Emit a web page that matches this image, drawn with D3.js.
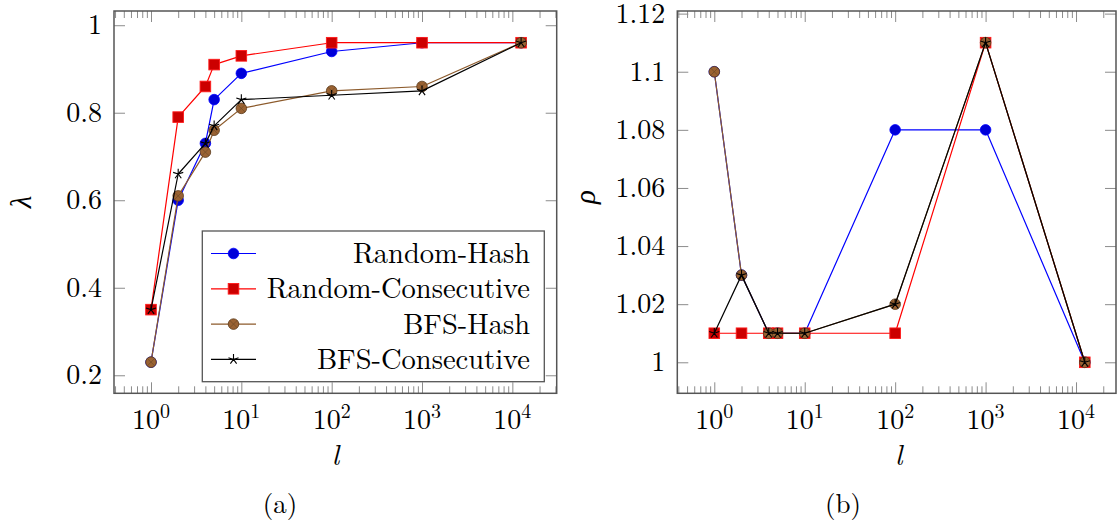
<!DOCTYPE html>
<html><head><meta charset="utf-8">
<script src="https://cdn.jsdelivr.net/npm/d3@7"></script>
<style>
body{margin:0;background:#fff}
svg{display:block}
</style>
</head><body>
<svg id="c" width="1117" height="524"></svg>
<script>
// ---------- data ----------
const lValues = [1, 2, 4, 5, 10, 100, 1000, 12500];
const seriesNames = ["Random-Hash", "Random-Consecutive", "BFS-Hash", "BFS-Consecutive"];
const lambdaRandomHash   = [0.23, 0.60, 0.73, 0.83, 0.89, 0.94, 0.96, 0.96];
const lambdaRandomConsec = [0.35, 0.79, 0.86, 0.91, 0.93, 0.96, 0.96, 0.96];
const lambdaBfsHash      = [0.23, 0.61, 0.71, 0.76, 0.81, 0.85, 0.86, 0.96];
const lambdaBfsConsec    = [0.35, 0.66, 0.73, 0.77, 0.83, 0.84, 0.85, 0.96];
const rhoRandomHash      = [1.10, 1.03, 1.01, 1.01, 1.01, 1.08, 1.08, 1.00];
const rhoRandomConsec    = [1.01, 1.01, 1.01, 1.01, 1.01, 1.01, 1.11, 1.00];
const rhoBfsHash         = [1.10, 1.03, 1.01, 1.01, 1.01, 1.02, 1.11, 1.00];
const rhoBfsConsec       = [1.01, 1.03, 1.01, 1.01, 1.01, 1.02, 1.11, 1.00];
const xTickExps = [0, 1, 2, 3, 4];
const lambdaTicks = [0.2, 0.4, 0.6, 0.8, 1];
const rhoTicks = [1, 1.02, 1.04, 1.06, 1.08, 1.1, 1.12];

// ---------- styles ----------
const FONT = "'Latin Modern Roman', 'Liberation Serif', monospace";
const GREEK = "'Liberation Serif', 'DejaVu Serif', monospace";
// prime font lookup
(function(){ const c = document.createElement("canvas").getContext("2d");
  c.font = "28px " + FONT; c.measureText("Random 0.8"); c.font = "italic 28px " + GREEK; c.measureText("λρ"); })();

const styles = [
  {line: "#0000ff", mark: "circle", fill: "#0000d9", stroke: "#0000ff"},
  {line: "#ff0000", mark: "square", fill: "#cc0000", stroke: "#ff1a1a"},
  {line: "#8c5a2b", mark: "otimes", fill: "#9a6232", stroke: "#5a3a1a"},
  {line: "#000000", mark: "star",   fill: "none",    stroke: "#000000"}
];
const R = 5.3;

const svg = d3.select("#c");

function txt(g, fam) {
  return g.append("text").attr("font-family", fam || FONT).style("font-family", fam || FONT).attr("fill", "#000");
}

function drawMark(g, type, st, cx, cy) {
  if (type === "circle") {
    g.append("circle").attr("cx", cx).attr("cy", cy).attr("r", R)
      .attr("fill", st.fill).attr("stroke", st.stroke).attr("stroke-width", 0.8);
  } else if (type === "square") {
    g.append("rect").attr("x", cx - R).attr("y", cy - R).attr("width", 2 * R).attr("height", 2 * R)
      .attr("fill", st.fill).attr("stroke", st.stroke).attr("stroke-width", 0.9);
  } else if (type === "otimes") {
    g.append("circle").attr("cx", cx).attr("cy", cy).attr("r", R)
      .attr("fill", st.fill).attr("stroke", st.stroke).attr("stroke-width", 0.8);
    const d = R * 0.707;
    g.append("path").attr("d", `M${cx - d},${cy - d}L${cx + d},${cy + d}M${cx - d},${cy + d}L${cx + d},${cy - d}`)
      .attr("stroke", "#6e4a26").attr("stroke-width", 0.7).attr("fill", "none");
  } else if (type === "star") {
    let p = "";
    for (let k = 0; k < 5; k++) {
      const a = (-90 + 72 * k) * Math.PI / 180;
      p += `M${cx},${cy}L${cx + R * Math.cos(a)},${cy + R * Math.sin(a)}`;
    }
    g.append("path").attr("d", p).attr("stroke", "#000").attr("stroke-width", 1.1).attr("fill", "none");
  }
}

function panel(cfg) {
  const g = svg.append("g");
  const x = d3.scaleLog().domain([Math.pow(10, cfg.xMinExp), Math.pow(10, cfg.xMaxExp)]).range([cfg.x0, cfg.x1]);
  const y = d3.scaleLinear().domain(cfg.yDomain).range([cfg.y0, cfg.y1]);
  const majors = xTickExps.map(e => Math.pow(10, e));
  const minors = [];
  for (let e = -1; e <= 5; e++) for (let k = 2; k <= 9; k++) {
    const v = k * Math.pow(10, e);
    if (v > x.domain()[0] && v < x.domain()[1]) minors.push(v);
  }

  const axes = g.append("g").attr("class", "axes");
  function styleAxis(sel) {
    sel.select(".domain").remove();
    sel.selectAll(".tick line").attr("stroke", "#8c8c8c").attr("stroke-width", 1);
    sel.selectAll(".tick text").remove();
  }
  axes.append("g").attr("transform", `translate(0,${cfg.y0})`)
    .call(d3.axisBottom(x).tickValues(majors).tickSize(-11).tickFormat("")).call(styleAxis);
  axes.append("g").attr("transform", `translate(0,${cfg.y0})`)
    .call(d3.axisBottom(x).tickValues(minors).tickSize(-7).tickFormat("")).call(styleAxis);
  axes.append("g").attr("transform", `translate(0,${cfg.y1})`)
    .call(d3.axisTop(x).tickValues(majors).tickSize(-11).tickFormat("")).call(styleAxis);
  axes.append("g").attr("transform", `translate(0,${cfg.y1})`)
    .call(d3.axisTop(x).tickValues(minors).tickSize(-7).tickFormat("")).call(styleAxis);
  axes.append("g").attr("transform", `translate(${cfg.x0},0)`)
    .call(d3.axisLeft(y).tickValues(cfg.yTicks).tickSize(-11).tickFormat("")).call(styleAxis);
  axes.append("g").attr("transform", `translate(${cfg.x1},0)`)
    .call(d3.axisRight(y).tickValues(cfg.yTicks).tickSize(-11).tickFormat("")).call(styleAxis);

  // box
  g.append("rect").attr("x", cfg.x0).attr("y", cfg.y1).attr("width", cfg.x1 - cfg.x0).attr("height", cfg.y0 - cfg.y1)
    .attr("fill", "none").attr("stroke", "#555").attr("stroke-width", 1.5);

  // tick labels
  cfg.yTicks.forEach(v => {
    txt(g).attr("x", cfg.x0 - 12).attr("y", y(v) + 9).attr("text-anchor", "end")
      .attr("font-size", 28).text(String(v));
  });
  xTickExps.forEach(e => {
    const t = txt(g).attr("x", x(Math.pow(10, e))).attr("y", 428.5).attr("text-anchor", "middle")
      .attr("font-size", 28);
    t.append("tspan").text("10");
    t.append("tspan").attr("font-size", 20).attr("dy", -11).text(String(e));
  });

  // axis titles
  txt(g).attr("x", (cfg.x0 + cfg.x1w) / 2).attr("y", 465).attr("text-anchor", "middle")
    .attr("font-size", 29).attr("font-style", "italic").text("l");
  txt(g, GREEK).attr("transform", `translate(${cfg.ylabX},${cfg.ylabY}) rotate(-90)`)
    .attr("text-anchor", "middle").attr("font-size", 29).attr("font-style", "italic").text(cfg.ylab);
  txt(g).attr("x", cfg.capX).attr("y", 513).attr("text-anchor", "middle")
    .attr("font-size", 27).text(cfg.caption);

  // series
  const line = d3.line().x(d => x(d[0])).y(d => y(d[1]));
  cfg.series.forEach((vals, i) => {
    const st = styles[i];
    const pts = lValues.map((l, j) => [l, vals[j]]);
    g.append("path").attr("d", line(pts)).attr("fill", "none").attr("stroke", st.line)
      .attr("stroke-width", 1.2).attr("stroke-linejoin", "round");
    const mg = g.append("g");
    pts.forEach(p => drawMark(mg, st.mark, st, x(p[0]), y(p[1])));
  });
  return {g, x, y};
}

panel({
  x0: 114, x1: 556.7, x1w: 556.7, y0: 393.3, y1: 11,
  xMinExp: -0.4096, xMaxExp: 4.491,
  yDomain: [0.1588, 1.0325], yTicks: lambdaTicks,
  series: [lambdaRandomHash, lambdaRandomConsec, lambdaBfsHash, lambdaBfsConsec],
  ylab: "λ", ylabX: 31, ylabY: 202, capX: 280, caption: "(a)"
});

panel({
  x0: 677.3, x1: 1116, x1w: 1120, y0: 393.3, y1: 11,
  xMinExp: -0.409, xMaxExp: 4.442,
  yDomain: [0.98933, 1.1209], yTicks: rhoTicks,
  series: [rhoRandomHash, rhoRandomConsec, rhoBfsHash, rhoBfsConsec],
  ylab: "ρ", ylabX: 595, ylabY: 197, capX: 843, caption: "(b)"
});

// legend (panel a)
const lg = svg.append("g");
lg.append("rect").attr("x", 202.3).attr("y", 231).attr("width", 342).attr("height", 150.7)
  .attr("fill", "#fff").attr("stroke", "#555").attr("stroke-width", 1.3);
seriesNames.forEach((name, i) => {
  const cy = 253.5 + 35.3 * i;
  const st = styles[i];
  lg.append("line").attr("x1", 211).attr("x2", 256).attr("y1", cy).attr("y2", cy)
    .attr("stroke", st.line).attr("stroke-width", 1.2);
  drawMark(lg, st.mark, st, 233.5, cy);
  txt(lg).attr("x", 530).attr("y", cy + 9.5).attr("text-anchor", "end")
    .attr("font-size", 28.5).text(name);
});
</script>
</body></html>
